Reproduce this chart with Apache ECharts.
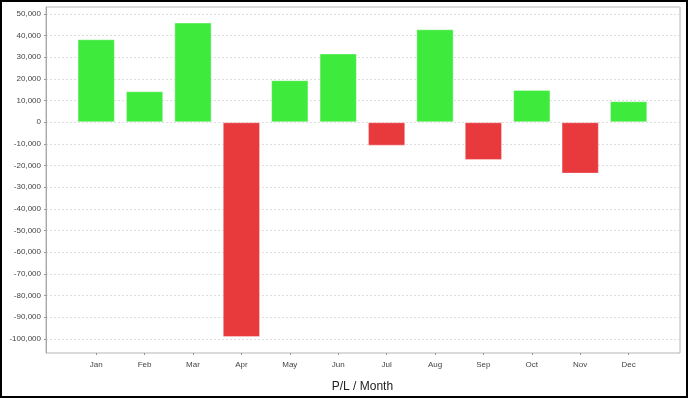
<!DOCTYPE html>
<html>
<head>
<meta charset="utf-8">
<script src="https://cdn.jsdelivr.net/npm/echarts@6/dist/echarts.min.js"></script>
<style>
  html, body { margin: 0; padding: 0; background: #fff; }
  #wrap { position: relative; width: 688px; height: 398px; }
  #chart { position: absolute; left: 0; top: 0; width: 688px; height: 398px; }
  #frame { position: absolute; left: 0; top: 0; width: 688px; height: 398px; box-sizing: border-box; border: 2px solid #000; pointer-events: none; }
</style>
</head>
<body>
<div id="wrap"><div id="chart"></div><div id="frame"></div></div>
<script>
// Data
var months = ['Jan', 'Feb', 'Mar', 'Apr', 'May', 'Jun', 'Jul', 'Aug', 'Sep', 'Oct', 'Nov', 'Dec'];
var plValues = [38300, 14300, 46000, -99100, 19400, 31700, -10800, 42900, -17400, 14900, -23700, 9700];
var axisTitle = 'P/L / Month';
var yMin = -106500;
var yMax = 53200;

var FONT = 'Liberation Sans, Arial, sans-serif';
var POS = '#3EEA3C';
var NEG = '#E8393D';

var chart = echarts.init(document.getElementById('chart'), null, { renderer: 'canvas' });

function fmt(v) {
  if (Math.round(v) % 10000 !== 0) return '';
  return Math.round(v).toLocaleString('en-US');
}

var option = {
  backgroundColor: '#fff',
  animation: false,
  grid: [
    { left: 46, right: 8, top: 7, bottom: 45, show: true, borderColor: '#b4b4b4', borderWidth: 1, backgroundColor: 'transparent' },
    { left: 72, right: 35.2, top: 7, bottom: 45 }
  ],
  xAxis: [
    { gridIndex: 0, type: 'category', data: months, show: false },
    {
      gridIndex: 1, type: 'category', data: months,
      axisLine: { show: false, onZero: false },
      axisTick: { show: true, alignWithLabel: true, length: 2, lineStyle: { color: '#999' } },
      axisLabel: { color: '#444', fontSize: 8, fontFamily: FONT, margin: 8 },
      name: axisTitle, nameLocation: 'middle', nameGap: 28,
      nameTextStyle: { color: '#222', fontSize: 12, fontFamily: FONT }
    }
  ],
  yAxis: [
    {
      gridIndex: 0, type: 'value', min: yMin, max: yMax, splitNumber: 16,
      axisLine: { show: true, lineStyle: { color: '#aaaaaa' } },
      axisTick: { show: true, length: 2, lineStyle: { color: '#999' } },
      axisLabel: { color: '#444', fontSize: 8, fontFamily: FONT, margin: 5, formatter: fmt, showMinLabel: false, showMaxLabel: false },
      splitLine: { show: true, lineStyle: { color: '#dcdcdc', type: [2, 2], width: 1 } }
    },
    { gridIndex: 1, type: 'value', min: yMin, max: yMax, show: false, splitLine: { show: false } }
  ],
  series: [
    {
      type: 'bar', xAxisIndex: 1, yAxisIndex: 1,
      data: plValues,
      barCategoryGap: '23%',
      itemStyle: {
        color: function (p) { return p.value >= 0 ? POS : NEG; },
        borderColor: 'rgba(255,255,255,0.35)',
        borderWidth: 1
      }
    }
  ]
};
chart.setOption(option);
</script>
</body>
</html>
